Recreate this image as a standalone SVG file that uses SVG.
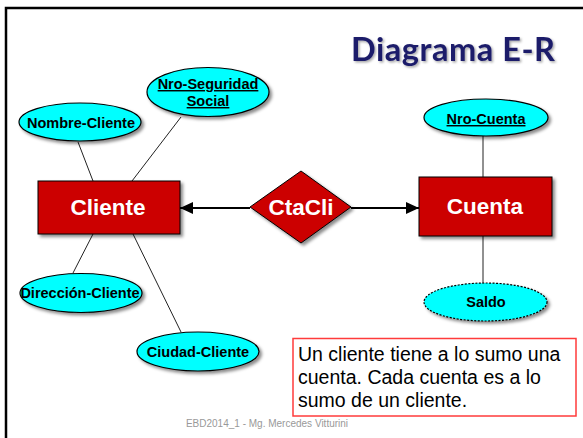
<svg xmlns="http://www.w3.org/2000/svg" width="583" height="438" viewBox="0 0 583 438">
<defs>
<filter id="sh" x="-20%" y="-20%" width="150%" height="160%">
<feDropShadow dx="2.5" dy="2.5" stdDeviation="1.5" flood-color="#000" flood-opacity="0.45"/>
</filter>
<filter id="tsh" x="-10%" y="-20%" width="120%" height="150%">
<feDropShadow dx="1.5" dy="1.5" stdDeviation="1" flood-color="#000" flood-opacity="0.35"/>
</filter>
<marker id="ah" markerWidth="13" markerHeight="12" refX="13" refY="6" orient="auto" markerUnits="userSpaceOnUse">
<path d="M0,0 L13,6 L0,12 Z" fill="#000"/>
</marker>
</defs>
<style>
.ent{fill:#cc0000;stroke:#000;stroke-width:1;filter:url(#sh)}
.entt{font-family:"Liberation Sans",Arial,sans-serif;font-weight:bold;font-size:22.5px;fill:#fff;text-anchor:middle}
.att{fill:#00ffff;stroke:#000;stroke-width:1.2;filter:url(#sh)}
.attt{font-family:"Liberation Sans",Arial,sans-serif;font-weight:bold;font-size:14.5px;fill:#000;text-anchor:middle}
.key{text-decoration:underline}
.ln{stroke:#222;stroke-width:1;fill:none}
.arr{stroke:#000;stroke-width:2;fill:none;marker-end:url(#ah)}
</style>
<rect width="583" height="438" fill="#fff"/>
<path d="M6,440 V8 H586" fill="none" stroke="#000" stroke-width="2.5"/>
<text id="title" x="555" y="61" text-anchor="end" font-family="Lato,'Open Sans',sans-serif" font-weight="bold" font-size="32.5" textLength="204" lengthAdjust="spacing" fill="#1c1c6a" filter="url(#tsh)">Diagrama E-R</text>

<g id="connectors">
<line class="ln" x1="78" y1="142" x2="93" y2="181"/>
<line class="ln" x1="181" y1="117" x2="132" y2="181"/>
<line class="ln" x1="93" y1="234" x2="73" y2="273"/>
<line class="ln" x1="133" y1="234" x2="181" y2="332"/>
<line class="ln" x1="483" y1="136" x2="483" y2="177"/>
<line class="ln" x1="483" y1="236" x2="483" y2="283"/>
<line class="arr" x1="250" y1="208" x2="180" y2="208"/>
<line class="arr" x1="351" y1="208" x2="419" y2="208"/>
</g>

<g id="cliente">
<rect class="ent" x="38" y="181" width="142" height="53"/>
<text class="entt" x="108" y="215">Cliente</text>
</g>
<g id="ctacli">
<path class="ent" d="M250,207 L301,171 L351,207 L301,243 Z"/>
<text class="entt" x="301" y="215">CtaCli</text>
</g>
<g id="cuenta">
<rect class="ent" x="419" y="177" width="133" height="59"/>
<text class="entt" x="485" y="214">Cuenta</text>
</g>

<g id="nombre-cliente">
<ellipse class="att" cx="80" cy="122" rx="61" ry="19"/>
<text class="attt" x="81" y="127.5">Nombre-Cliente</text>
</g>
<g id="nro-seguridad">
<ellipse class="att" cx="208" cy="92" rx="61" ry="24.5"/>
<text class="attt key" x="208" y="89">Nro-Seguridad</text>
<text class="attt key" x="208" y="106">Social</text>
</g>
<g id="direccion-cliente">
<ellipse class="att" cx="81" cy="293" rx="61" ry="19.5"/>
<text class="attt" x="80" y="298">Dirección-Cliente</text>
</g>
<g id="ciudad-cliente">
<ellipse class="att" cx="198" cy="351.5" rx="61" ry="19.5"/>
<text class="attt" x="198" y="357">Ciudad-Cliente</text>
</g>
<g id="nro-cuenta">
<ellipse class="att" cx="486" cy="117.5" rx="62" ry="18.5"/>
<text class="attt key" x="486" y="124">Nro-Cuenta</text>
</g>
<g id="saldo">
<ellipse class="att" cx="485.5" cy="302" rx="61.5" ry="19" stroke-dasharray="2,1.5"/>
<text class="attt" x="486" y="306.5">Saldo</text>
</g>

<g id="nota">
<rect x="293" y="338.5" width="283" height="77.5" fill="#fff" stroke="#ff3b3b" stroke-width="1.5"/>
<text font-family="'Liberation Sans',Arial,sans-serif" font-size="19.5" fill="#000">
<tspan x="298" y="361">Un cliente tiene a lo sumo una</tspan>
<tspan x="298" y="384">cuenta. Cada cuenta es a lo</tspan>
<tspan x="298" y="407">sumo de un cliente.</tspan>
</text>
</g>
<text id="footer" x="267" y="427" text-anchor="middle" font-family="'Liberation Sans',Arial,sans-serif" font-size="10" fill="#999">EBD2014_1 - Mg. Mercedes  Vitturini</text>
</svg>
